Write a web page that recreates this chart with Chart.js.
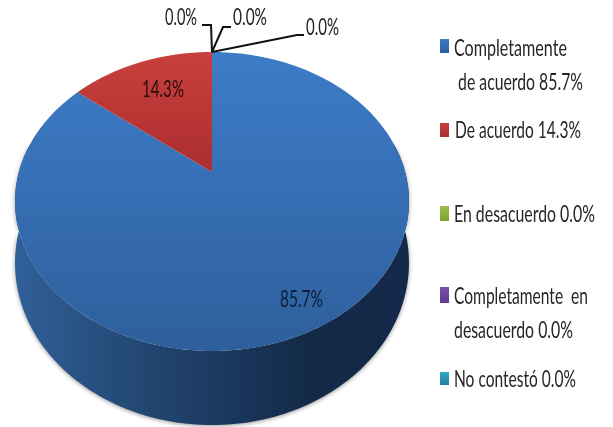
<!DOCTYPE html>
<html><head><meta charset="utf-8">
<style>html,body{margin:0;padding:0;background:#fff}canvas{display:block;filter:blur(0.55px)}</style>
<script src="https://cdn.jsdelivr.net/npm/chart.js@4"></script>
</head><body><canvas id="c" width="613" height="427"></canvas>
<script>
const categories = ['Completamente de acuerdo','De acuerdo','En desacuerdo','Completamente en desacuerdo','No contestó'];
const values = [85.7,14.3,0.0,0.0,0.0];
const lightColors = ['#3d7cc8','#c8403d','#9bbf4a','#7a4ea6','#35a9c6'];
const darkColors = ['#2e5f9c','#ab2e2e','#7f9e35','#5f3b8b','#21809c'];
const legendLines = [['Completamente',' de acuerdo {v}%'],['De acuerdo {v}%'],['En desacuerdo {v}%'],['Completamente  en','desacuerdo {v}%'],['No contestó {v}%']];

// projection of the unit pie disc on to the tilted top face
const P = {cx:212, vy:172, d:193.1, a:109.74, c:-0.1973};
const top3d = t => { const u=Math.cos(t), v=Math.sin(t), w=1+P.c*v;
  return [P.cx+P.d*u/w, (P.a*v+P.vy)/w + 0]; };
const base3d = t => { const p=top3d(t); return [p[0], 263+(p[1]-201.5)*1.084]; };

const legendLayout = [
  {swatch:[440,39,9,14], rows:[[454,56,113],[454,90,129]]},
  {swatch:[440,123,9,14], rows:[[455,138,126]]},
  {swatch:[440,206,9,15], rows:[[454,222,141]]},
  {swatch:[440,287,9,16], rows:[[454,304,134],[454,338,119]]},
  {swatch:[440,372,9,13], rows:[[454,387,122]]}
];
const valueLabels = [[280,307,43,'#0f1d38'],[142,97,42,'#2a0c0c'],[165,25,32,'#222'],[233,25,34,'#222'],[306,35,33,'#222']];
const leaders = [[[212,52],[211,25],[202,25]],[[212,52],[223,27],[231,27]],[[212,52],[297,35],[304,35]]];

function fitText(ctx,s,x,y,w,color,size){
  ctx.save(); ctx.font=size+'px Lato'; ctx.fillStyle=color; ctx.textBaseline='alphabetic'; ctx.textAlign='left';
  ctx.wordSpacing='-2px';
  const m=ctx.measureText(s).width; ctx.translate(x,y); ctx.scale(w/m,1); ctx.fillText(s,0,0); ctx.restore();
}
const pie3d = {
  id:'pie3d',
  beforeDatasetsDraw(chart){
    const ctx=chart.ctx, arcs=chart.getDatasetMeta(0).data;
    const lo=-0.2, hi=Math.PI+0.2;
    arcs.forEach((arc,i)=>{
      if(arc.circumference<=0) return;
      const a=Math.max(arc.startAngle,lo), b=Math.min(arc.endAngle,hi);
      if(b<=a) return;
      const g=ctx.createLinearGradient(15,0,409,0);
      g.addColorStop(0,'#2f6099'); g.addColorStop(0.2,'#27507f'); g.addColorStop(0.5,'#1c3a61'); g.addColorStop(0.75,'#132a47'); g.addColorStop(1,'#15294a');
      ctx.save(); ctx.shadowColor='rgba(80,80,80,.6)'; ctx.shadowBlur=4; ctx.shadowOffsetY=1;
      ctx.beginPath();
      for(let k=0;k<=160;k++){const p=base3d(a+(b-a)*k/160); k?ctx.lineTo(p[0],p[1]):ctx.moveTo(p[0],p[1]);}
      for(let k=160;k>=0;k--){const p=top3d(a+(b-a)*k/160); ctx.lineTo(p[0],p[1]);}
      ctx.closePath(); ctx.fillStyle=g; ctx.fill(); ctx.restore();
    });
    arcs.forEach((arc,i)=>{
      if(arc.circumference<=0) return;
      const g=ctx.createLinearGradient(0,52,0,i===0?351:172);
      g.addColorStop(0,lightColors[i]); g.addColorStop(1,darkColors[i]);
      ctx.beginPath(); ctx.moveTo(P.cx,P.vy);
      for(let k=0;k<=240;k++){const p=top3d(arc.startAngle+arc.circumference*k/240); ctx.lineTo(p[0],p[1]);}
      ctx.closePath(); ctx.fillStyle=g; ctx.fill();
    });
    return false;
  },
  afterDraw(chart){
    const ctx=chart.ctx;
    ctx.save(); ctx.strokeStyle='#111'; ctx.lineWidth=2; ctx.lineJoin='miter';
    leaders.forEach(l=>{ctx.beginPath();l.forEach((p,i)=>i?ctx.lineTo(p[0],p[1]):ctx.moveTo(p[0],p[1]));ctx.stroke();});
    ctx.restore();
    values.forEach((v,i)=>{
      const [x,y,w,col]=valueLabels[i];
      fitText(ctx,v.toFixed(1)+'%',x,y,w,col,24);
    });
    legendLayout.forEach((L,i)=>{
      const [sx,sy,sw,sh]=L.swatch;
      const g=ctx.createLinearGradient(0,sy,0,sy+sh);
      g.addColorStop(0,lightColors[i]); g.addColorStop(1,darkColors[i]);
      ctx.fillStyle=g; ctx.fillRect(sx,sy,sw,sh);
      L.rows.forEach((r,k)=>{
        fitText(ctx,legendLines[i][k].replace('{v}',values[i].toFixed(1)),r[0],r[1],r[2],'#262626',23);
      });
    });
  }
};
new Chart(document.getElementById('c'),{
  type:'pie',
  data:{labels:categories,datasets:[{data:values,backgroundColor:lightColors,borderWidth:0}]},
  options:{responsive:false,animation:false,rotation:0,
    plugins:{legend:{display:false},tooltip:{enabled:false}}},
  plugins:[pie3d]
});
</script></body></html>
